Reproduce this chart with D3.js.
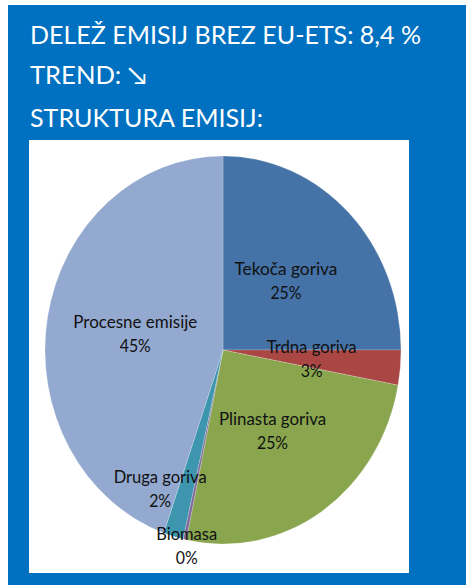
<!DOCTYPE html>
<html><head><meta charset="utf-8">
<script src="https://cdn.jsdelivr.net/npm/d3@7"></script>
<style>html,body{margin:0;padding:0;background:#fff}svg{display:block}</style>
</head><body>
<svg id="c" width="466" height="585"></svg>
<script>
const categories = ["Tekoča goriva","Trdna goriva","Plinasta goriva","Biomasa","Druga goriva","Procesne emisije"];
const values = [25.0, 2.9, 25.4, 0.3, 1.8, 44.6];
const colors = ["#4572A7","#AA4643","#89A54E","#80699B","#3D96AE","#93A9CF"];
const titleLines = ["DELEŽ EMISIJ BREZ EU-ETS: 8,4 %","TREND: ↘","STRUKTURA EMISIJ:"];

const svg = d3.select("#c");
const FONT = "Lato, 'Open Sans', sans-serif";

// blue panel
svg.append("rect").attr("x",8).attr("y",5).attr("width",458).attr("height",580).attr("fill","#0070C0");

// title
const titleW = [391, 117, 233];
const titleY = [43.5, 84, 127];
titleLines.forEach((t,i)=>{
  svg.append("text").attr("x",30).attr("y",titleY[i])
    .attr("font-family",FONT).attr("font-size",25).attr("fill","#fff")
    .attr("textLength",titleW[i]).attr("lengthAdjust","spacingAndGlyphs")
    .text(t);
});

// plot area
svg.append("rect").attr("x",29).attr("y",140).attr("width",380).attr("height",433).attr("fill","#fff");

const cx = 223, cy = 350, rx = 178, ry = 194;
const pie = d3.pie().sort(null).value(d=>d.v);
const arcs = pie(values.map((v,i)=>({v, i})));
const arc = d3.arc().innerRadius(0).outerRadius(rx);

const g = svg.append("g").attr("transform",`translate(${cx},${cy}) scale(1,${ry/rx})`);
g.selectAll("path").data(arcs).join("path")
  .attr("d",arc)
  .attr("fill",d=>colors[d.data.i])
  .attr("stroke","rgba(255,255,255,0.35)")
  .attr("stroke-width",0.6)
  .attr("vector-effect","non-scaling-stroke");

// labels (best-fit placement tweaks for thin slices)
const labelPlace = {3:{r:1.03, da:-1}, 4:{r:0.80, da:10}};
const labelW = [103, 90, 107, 61, 93, 124];
const fs = 17;
arcs.forEach(d=>{
  const i = d.data.i;
  const p = labelPlace[i] || {r:0.5, da:0};
  const a = (d.startAngle + d.endAngle)/2 + p.da*Math.PI/180;
  const x = cx + p.r*rx*Math.sin(a);
  const y = cy - p.r*ry*Math.cos(a);
  const t1 = svg.append("text").attr("x",x).attr("y",y-6).attr("text-anchor","middle")
    .attr("font-family",FONT).attr("font-size",fs).attr("fill","#111")
    .text(categories[i]);
  t1.attr("textLength",labelW[i]).attr("lengthAdjust","spacingAndGlyphs");
  const pct = Math.round(d.data.v) + "%";
  const t2 = svg.append("text").attr("x",x).attr("y",y+18).attr("text-anchor","middle")
    .attr("font-family",FONT).attr("font-size",fs).attr("fill","#111")
    .text(pct);
  t2.attr("textLength", pct.length===3 ? 31 : 22).attr("lengthAdjust","spacingAndGlyphs");
});
</script>
</body></html>
